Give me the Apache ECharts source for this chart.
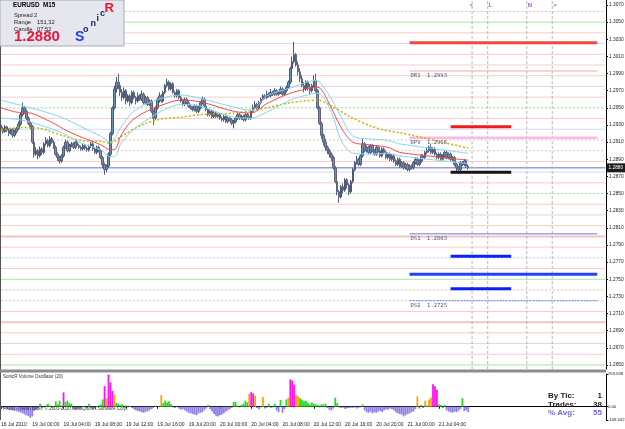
<!DOCTYPE html>
<html><head><meta charset="utf-8">
<script src="https://cdn.jsdelivr.net/npm/echarts@6/dist/echarts.min.js"></script>
<style>html,body{margin:0;padding:0;background:#fff}#c{width:625px;height:429px}</style>
</head><body><div id="c"></div>
<script>
// ---------- DATA ----------
const timeLabels = ['16 Jul 2010','19 Jul 00:00','19 Jul 04:00','19 Jul 08:00','19 Jul 12:00','19 Jul 16:00','19 Jul 20:00','20 Jul 00:00','20 Jul 04:00','20 Jul 08:00','20 Jul 12:00','20 Jul 16:00','20 Jul 20:00','21 Jul 00:00','21 Jul 04:00'];
const priceTicks = [1.2650,1.2670,1.2690,1.2710,1.2730,1.2750,1.2770,1.2790,1.2810,1.2830,1.2850,1.2870,1.2890,1.2910,1.2930,1.2950,1.2970,1.2990,1.3010,1.3030,1.3050,1.3070];
const volTicks = [-109.532, 0, 269.638];
const BASE_PRICE = 1.2800; // pips below are relative to this price
const openPips = [130,126,122,128,124,120,125,118,122,126, 131,142,150,146,138,132,128,110,96,100, 94,102,98,108,112,106,114,110,104,96, 92,88,94,104,110,100,106,108,104,110, 106,104,102,106,103,101,105,108,102,98, 104,100,92,84,78,82,96,120,150,172, 180,176,168,162,170,158,164,156,168,162, 158,164,160,166,156,162,154,158,146,138, 150,160,164,158,168,176,180,172,178,168, 164,170,162,158,154,160,156,152,150,148, 152,146,150,156,160,152,148,142,146,140, 144,140,142,138,136,140,134,138,136,132, 134,138,142,138,140,136,142,140,138,146, 150,154,150,156,160,164,162,166,164,168, 166,170,166,168,172,166,170,174,180,196, 204,212,200,192,184,176,172,180,174,170, 176,182,170,150,132,118,110,104,100,96, 92,80,64,52,46,58,54,66,60,52, 64,78,86,90,84,94,108,100,104,98, 106,100,96,104,100,94,102,98,92,96, 90,94,88,84,90,82,86,80,84,78, 82,80,86,90,84,88,94,92,98,100, 104,98,102,96,92,96,90,94,98,92, 96,90,92,84,80,78,86,84,88,82];
const highPips = [133,128,130,129,126,127,126,124,128,134, 145,156,152,148,140,134,130,112,104,102, 105,104,110,116,114,117,116,112,106,98, 94,96,106,113,112,108,110,110,112,112, 108,106,108,108,105,107,110,110,104,106, 106,102,94,86,84,98,122,152,176,186, 190,180,172,174,172,166,166,170,170,164, 168,166,170,168,164,164,160,160,148,152, 162,168,166,170,178,184,182,180,180,170, 172,172,164,160,162,162,158,154,152,154, 154,152,158,163,162,154,150,148,148,146, 146,144,144,140,142,142,140,140,138,136, 140,144,144,142,142,144,144,142,148,154, 158,156,158,162,166,166,170,168,172,170, 173,172,170,175,174,172,176,182,198,210, 227,214,204,196,188,180,182,182,178,178, 188,190,172,152,134,120,114,106,102,98, 94,82,66,54,60,62,68,68,62,66, 80,88,94,92,96,114,110,106,106,108, 108,102,106,106,102,104,104,100,98,98, 96,96,90,92,92,88,88,86,86,84, 84,88,92,92,90,96,96,100,104,106, 108,104,104,98,98,98,96,100,100,98, 98,94,94,86,82,88,88,90,90,84];
const lowPips = [124,120,121,122,117,119,115,116,120,124, 129,140,143,136,130,125,108,92,94,90, 92,95,96,106,104,104,108,102,94,88, 85,86,92,102,98,98,104,102,102,104, 102,100,100,101,99,99,103,100,96,96, 98,90,80,72,75,80,94,118,148,168, 172,164,158,160,154,156,152,154,160,154, 156,158,158,154,154,152,152,144,130,136, 148,156,156,156,166,174,170,170,166,162, 162,160,156,152,152,154,150,148,146,146, 144,144,148,154,150,146,140,140,138,138, 138,138,136,134,134,132,132,134,130,126, 132,136,136,136,134,134,138,136,136,144, 148,148,148,154,158,160,160,162,162,164, 164,164,164,166,164,164,168,172,178,192, 202,198,188,180,174,168,170,170,166,168, 174,168,148,130,114,106,100,96,92,88, 78,62,48,39,44,50,52,56,48,50, 62,76,84,82,82,92,98,98,96,96, 98,94,94,98,92,92,96,90,90,88, 88,86,82,82,80,80,78,78,76,76, 78,78,84,82,82,86,90,90,96,98, 96,96,94,90,90,88,88,92,90,90, 88,88,82,76,76,76,82,82,80,78];
const closePips = [126,122,128,124,120,125,118,122,126,131, 142,150,146,138,132,128,110,96,100,94, 102,98,108,112,106,114,110,104,96,92, 88,94,104,110,100,106,108,104,110,106, 104,102,106,103,101,105,108,102,98,104, 100,92,84,78,82,96,120,150,172,180, 176,168,162,170,158,164,156,168,162,158, 164,160,166,156,162,154,158,146,138,150, 160,164,158,168,176,180,172,178,168,164, 170,162,158,154,160,156,152,150,148,152, 146,150,156,160,152,148,142,146,140,144, 140,142,138,136,140,134,138,136,132,134, 138,142,138,140,136,142,140,138,146,150, 154,150,156,160,164,162,166,164,168,166, 170,166,168,172,166,170,174,180,196,204, 212,200,192,184,176,172,180,174,170,176, 182,170,150,132,118,110,104,100,96,92, 80,64,52,46,58,54,66,60,52,64, 78,86,90,84,94,108,100,104,98,106, 100,96,104,100,94,102,98,92,96,90, 94,88,84,90,82,86,80,84,78,82, 80,86,90,84,88,94,92,98,100,104, 98,102,96,92,96,90,94,98,92,96, 90,92,84,80,78,86,84,88,82,80];
// moving averages: [bar index, pips]
const maUpper = [[0,159],[10,153],[20,147],[31,139],[41,128],[51,117],[56,110],[61,126],[66,142],[72,152],[82,161],[92,165],[102,161],[119,151],[128,147],[136,164],[148,173],[161,182],[167,168],[174,139],[180,117],[188,114],[198,112],[204,108],[239,97]];
const maMid = [[0,150],[8,145],[15,144],[26,133],[34,123],[42,115],[51,107],[56,101],[59,103],[61,116],[66,133],[72,143],[82,153],[92,159],[102,157],[119,146],[128,144],[136,155],[148,167],[162,174],[167,159],[174,127],[180,110],[188,107],[198,104],[204,98],[239,89]];
const maLower = [[0,138],[10,136],[20,130],[31,121],[41,109],[51,101],[56,93],[59,95],[61,107],[66,121],[72,132],[82,146],[92,154],[102,152],[119,139],[128,138],[136,145],[148,159],[162,167],[169,145],[174,112],[180,97],[188,96],[198,97],[204,94],[239,85]];
const maSlow = [[0,124],[10,127],[20,126],[31,118],[41,112],[51,111],[56,109],[61,116],[72,130],[82,137],[92,139],[102,142],[119,144],[136,150],[148,156],[162,159],[170,151],[179,139],[188,130],[196,124],[204,121],[222,112],[239,103]];
// pivot levels
const pivotDR1 = 1.2993, pivotDPV = 1.2915, pivotDS1 = 1.2803, pivotDS2 = 1.2725;
const resistThick = 1.3026, supportThick = 1.2756;
const bidPrice = 1.2880;
const signalRed = 1.2928, signalBlack = 1.2875, signalBlue1 = 1.2777, signalBlue2 = 1.2739;
// background level lines
const greenSolid = [1.2650, 1.2750, 1.3050];
const greenDotted = [1.2850, 1.2950];
const lavSolid = [1.2675, 1.2825, 1.2875, 1.2925, 1.2975, 1.3025];
const lavDotted = [1.2725, 1.2775];
const pinkSolid = [1.26625, 1.26875, 1.27125, 1.27625, 1.27875, 1.28125, 1.28375, 1.28625, 1.28875, 1.29375, 1.29625, 1.29875, 1.3000, 1.30125, 1.30375];
const pinkDotted = [1.27375, 1.2900, 1.29125, 1.30625];
const pinkThick = [1.2700, 1.2800];
// volume oscillator
const volValues = [-8,-10,-15,-18,-22,-25,-30,-34,-38,-42, -48,-55,-62,-70,-78,-90,-80,-35,-20,-10, 25,-8,-5,8,25,8,-8,5,45,20, 50,10,118,40,50,30,25,-15,-25,-10, -20,-8,5,-5,-12,25,-8,-15,-10,5, 10,20,60,170,70,265,200,130,100,30, 25,15,20,-3,10,-5,8,-10,-20,-30, -35,-40,-45,-50,-42,-38,-30,-20,-10,8, -5,-3,95,30,50,35,45,20,-5,-10, -3,-15,-25,-20,-30,-40,-50,-55,-60,-65, -70,-55,-50,-45,-30,-15,15,-20,-40,-60, -75,-80,-70,-65,-55,-40,-30,-20,-10,40, 40,10,-5,15,25,50,35,107,120,110, 90,-10,-20,-5,80,-15,-8,25,-10,-5, 25,-30,-45,55,-50,-20,60,75,225,215, 180,95,85,70,55,45,50,30,20,35, 25,20,15,-5,20,18,25,-10,-25,-30, -15,75,30,-5,-10,-8,-15,-12,-10,-8, -10,-5,-15,-8,-5,18,-30,-45,-50,-40, -55,-45,-50,-40,-35,-45,-30,-20,-25,-15, -20,-30,-45,-55,-60,-65,-80,-70,-60,-55, -45,-40,-20,85,-15,15,-10,50,10,60, 75,185,168,140,20,15,-10,15,-30,-40, -45,-50,-40,-45,-35,-20,70,-35,-30,-45];
const volOrangeIdx = [54,58,82,127,130,134,147,151,152,213,217,219,220];
const volMagentaIdx = [32,53,55,56,57,128,129,148,149,150,221,222,223];
// time markers
const markerIdx = [241, 249, 269, 282];
const markerText = ['<', 'L', 'N', '>'];
const lineStart = 209, lineEnd = 305;
const signalIdx = [230, 246, 261];
const stats = [['By Tic:', '1'], ['Trades:', '38'], ['% Avg:', '55']];

// ---------- BUILD ----------
const N_CAT = 310;
const Y_MIN = 1.264533, Y_MAX = 1.307583;
const cats = Array.from({length: N_CAT}, (_, i) => String(i));
const P = p => +(BASE_PRICE + p / 10000).toFixed(5);
const candleData = openPips.map((o, i) => [P(o), P(closePips[i]), P(lowPips[i]), P(highPips[i])]);
const toLine = arr => arr.map(d => [d[0], P(d[1])]);
const labelInterval = (i) => i % 16 === 0 && i / 16 < timeLabels.length;
const FONT = 'Liberation Sans';

const hLines = (vals, color, type, width) => ({
  type: 'line', xAxisIndex: 0, yAxisIndex: 0, symbol: 'none', silent: true, z: 1, connectNulls: false,
  data: vals.reduce((a, v) => a.concat([[0, v], [N_CAT - 1, v], [N_CAT - 1, '-']]), []),
  lineStyle: {color, type, width}
});
const vLines = (idx, color) => ({
  type: 'line', xAxisIndex: 0, yAxisIndex: 0, symbol: 'none', silent: true, z: 2, connectNulls: false,
  data: idx.reduce((a, i) => a.concat([[i, Y_MIN], [i, Y_MAX], [i, '-']]), []),
  lineStyle: {color, type: [3, 2], width: 1}
});
const span = (price, color, width, type) => ({
  type: 'line', xAxisIndex: 0, yAxisIndex: 0, data: [[lineStart, price], [lineEnd, price]],
  symbol: 'none', lineStyle: {color, width, type: type || 'solid'}, z: 4, silent: true
});
const signal = (price, color) => ({
  type: 'line', xAxisIndex: 0, yAxisIndex: 0, data: signalIdx.map(i => [i, price]),
  symbol: 'rect', symbolSize: 5, itemStyle: {color}, lineStyle: {color, width: 3}, z: 6, silent: true
});
const maLine = (arr, color, type, width) => ({
  type: 'line', xAxisIndex: 0, yAxisIndex: 0, data: toLine(arr), symbol: 'none', smooth: 0.3,
  lineStyle: {color, width, type}, z: 5, silent: true
});

const volData = volValues.map((v, i) => {
  let c = v < 0 ? '#8e80e6' : '#1ee01e';
  if (volOrangeIdx.includes(i)) c = '#ffa200';
  if (volMagentaIdx.includes(i)) c = '#ff14f0';
  return {value: v, itemStyle: {color: c}};
});

const chart = echarts.init(document.getElementById('c'), null, {renderer: 'canvas'});
const option = {
  animation: false,
  backgroundColor: '#ffffff',
  grid: [
    {left: 0, top: 0, width: 606, height: 369, containLabel: false, outerBoundsMode: 'none'},
    {left: 0, top: 374, width: 606, height: 46, containLabel: false, outerBoundsMode: 'none'}
  ],
  xAxis: [
    {type: 'category', gridIndex: 0, data: cats, boundaryGap: true,
     axisLine: {show: false}, axisTick: {show: false}, axisLabel: {show: false}, splitLine: {show: false}},
    {type: 'category', gridIndex: 1, data: cats, boundaryGap: true,
     axisLine: {show: true, lineStyle: {color: '#000', width: 1}},
     axisTick: {show: true, alignWithLabel: true, interval: labelInterval, length: 2, lineStyle: {color: '#000'}},
     axisLabel: {show: true, interval: labelInterval, formatter: (v, i) => (i % 16 === 0 ? (timeLabels[i / 16] || '') : ''),
       fontSize: 5, fontFamily: FONT, color: '#222', align: 'left', margin: 2, hideOverlap: false},
     splitLine: {show: false}}
  ],
  yAxis: [
    {type: 'value', gridIndex: 0, position: 'right', min: Y_MIN, max: Y_MAX, scale: true,
     splitLine: {show: false},
     axisLine: {show: true, onZero: false, lineStyle: {color: '#000'}},
     axisTick: {show: true, length: 2, customValues: priceTicks, lineStyle: {color: '#000'}},
     axisLabel: {customValues: priceTicks, formatter: v => v.toFixed(4), fontSize: 4.8, fontFamily: FONT, color: '#222', margin: 3}},
    {type: 'value', gridIndex: 1, position: 'right', min: -109.532, max: 269.638,
     splitLine: {show: false},
     axisLine: {show: true, onZero: false, lineStyle: {color: '#000'}},
     axisTick: {show: true, length: 2, customValues: volTicks, lineStyle: {color: '#000'}},
     axisLabel: {customValues: volTicks, formatter: v => (v === 0 ? '0.00' : v.toFixed(3)), fontSize: 4.2, fontFamily: FONT, color: '#222', margin: 2}}
  ],
  series: [
    hLines(pinkSolid, '#f6cccc', 'solid', 1),
    hLines(pinkDotted, '#f0baba', [2, 2], 1),
    hLines(pinkThick, '#f4c4c4', 'solid', 2),
    hLines(lavSolid, '#d6d6f2', 'solid', 1),
    hLines(lavDotted, '#c4c4ee', [2, 2], 1),
    hLines(greenSolid, '#a6e6a6', 'solid', 1),
    hLines(greenDotted, '#94dc94', [2, 2], 1),
    hLines([bidPrice], '#6a6ac8', 'solid', 1),
    vLines(markerIdx, '#b8b8b8'),
    span(resistThick, '#f4483c', 3),
    span(pivotDR1, '#f0a8a0', 1),
    span(pivotDPV, '#ffb6e8', 2.5),
    span(pivotDS1, '#7474e4', 1),
    span(supportThick, '#2440ff', 3),
    span(pivotDS2, '#7878e0', 1, [2, 1]),
    {type: 'candlestick', xAxisIndex: 0, yAxisIndex: 0, data: candleData, barWidth: 2, z: 3, silent: true,
     itemStyle: {color: '#6494b6', color0: '#8088a4', borderColor: '#4c5a76', borderColor0: '#5c647e', borderWidth: 1}},
    maLine(maSlow, '#c8b400', [2, 2], 1.5),
    maLine(maUpper, '#86d4f2', 'solid', 1),
    maLine(maLower, '#86d4f2', 'solid', 1),
    maLine(maMid, '#f04c4c', 'solid', 1),
    signal(signalRed, '#ee1c1c'),
    signal(signalBlack, '#151515'),
    signal(signalBlue1, '#0a22f4'),
    signal(signalBlue2, '#0a22f4'),
    {type: 'bar', xAxisIndex: 1, yAxisIndex: 1, data: volData, barWidth: 1.8, silent: true}
  ]
};
chart.setOption(option);

// ---------- GRAPHICS (texts positioned through the chart's own scales) ----------
const toPx = (i, v) => chart.convertToPixel({gridIndex: 0}, [i, v]);
const g = [];
const txt = (x, y, s, o) => g.push({type: 'text', x, y, z: 100, silent: true,
  style: {text: s, font: (o && o.font) || ('5.5px ' + FONT), fill: (o && o.fill) || '#333',
    textAlign: (o && o.align) || 'left', textVerticalAlign: (o && o.valign) || 'top'}});

[['DR1  ' + pivotDR1.toFixed(4), pivotDR1], ['DPV  ' + pivotDPV.toFixed(4), pivotDPV],
 ['DS1  ' + pivotDS1.toFixed(4), pivotDS1], ['DS2  ' + pivotDS2.toFixed(4), pivotDS2]].forEach(([s, v]) => {
  const p = toPx(lineStart, v);
  txt(p[0] + 1, p[1] + 2, s, {font: '5.5px DejaVu Sans Mono', fill: '#50506e'});
});
markerIdx.forEach((i, k) => {
  const p = toPx(i, Y_MAX);
  txt(p[0] + 1, 2, markerText[k], {font: 'bold 6px ' + FONT, fill: '#a060e0', align: k === 0 ? 'right' : 'left'});
});
// bid price box
const bp = toPx(0, bidPrice);
g.push({type: 'rect', z: 99, silent: true, shape: {x: 607, y: bp[1] - 4.5, width: 18, height: 9}, style: {fill: '#1c1c1c'}});
txt(608.5, bp[1], bidPrice.toFixed(4), {font: '4.8px ' + FONT, fill: '#ffffff', valign: 'middle'});

// frames and separators
g.push({type: 'line', z: 98, silent: true, shape: {x1: 0.5, y1: 0, x2: 0.5, y2: 420}, style: {stroke: '#555', lineWidth: 1}});
g.push({type: 'rect', z: 98, silent: true, shape: {x: 0, y: 369.5, width: 606, height: 3}, style: {fill: '#8c8c8c'}});

// info box
g.push({type: 'rect', z: 99, silent: true, shape: {x: 0, y: 0, width: 124, height: 46}, style: {fill: '#e6e6ee', stroke: '#a8a8b8', lineWidth: 1}});
txt(13, 2.5, 'EURUSD  M15', {font: 'bold 6.3px ' + FONT, fill: '#000'});
txt(14, 12, 'Spread', {font: '5.8px ' + FONT, fill: '#222'});
txt(34, 12, '2', {font: '5.8px ' + FONT, fill: '#222'});
txt(14, 19, 'Range', {font: '5.8px ' + FONT, fill: '#222'});
txt(37, 19, '151,32', {font: '5.8px ' + FONT, fill: '#222'});
txt(14, 26, 'Candle', {font: '5.8px ' + FONT, fill: '#222'});
txt(37, 26, '07:52', {font: '5.8px ' + FONT, fill: '#222'});
txt(14, 29.5, bidPrice.toFixed(4), {font: 'bold 15px ' + FONT, fill: '#e3183e'});
txt(75, 30.5, 'S', {font: 'bold 14px ' + FONT, fill: '#1e3ef0'});
txt(83, 25.5, 'o', {font: 'bold 9px ' + FONT, fill: '#1c1c5c'});
txt(90.5, 19.5, 'n', {font: 'bold 9px ' + FONT, fill: '#1c1c5c'});
txt(96.5, 14.5, 'i', {font: 'bold 9px ' + FONT, fill: '#1c1c5c'});
txt(100, 9.5, 'c', {font: 'bold 9px ' + FONT, fill: '#1c1c5c'});
txt(104.5, 1.5, 'R', {font: 'bold 13px ' + FONT, fill: '#f01424'});

// sub window texts
txt(3, 374.5, 'SonicR Volume Oscillator (20)', {font: '4.5px ' + FONT, fill: '#333'});
txt(3, 406.5, 'FXDD - MetaTrader, \u00a9 2001-2010 MetaQuotes Software Corp.', {font: '4.5px ' + FONT, fill: '#333'});
stats.forEach((r, k) => {
  const y = 396 + k * 8.5;
  const col = k === 2 ? '#6a6ae6' : '#1a1a1a';
  txt(548, y, r[0], {font: 'bold 8px ' + FONT, fill: col, valign: 'middle'});
  txt(602, y, r[1], {font: 'bold 8px ' + FONT, fill: col, align: 'right', valign: 'middle'});
});
chart.setOption({graphic: g});
</script></body></html>
